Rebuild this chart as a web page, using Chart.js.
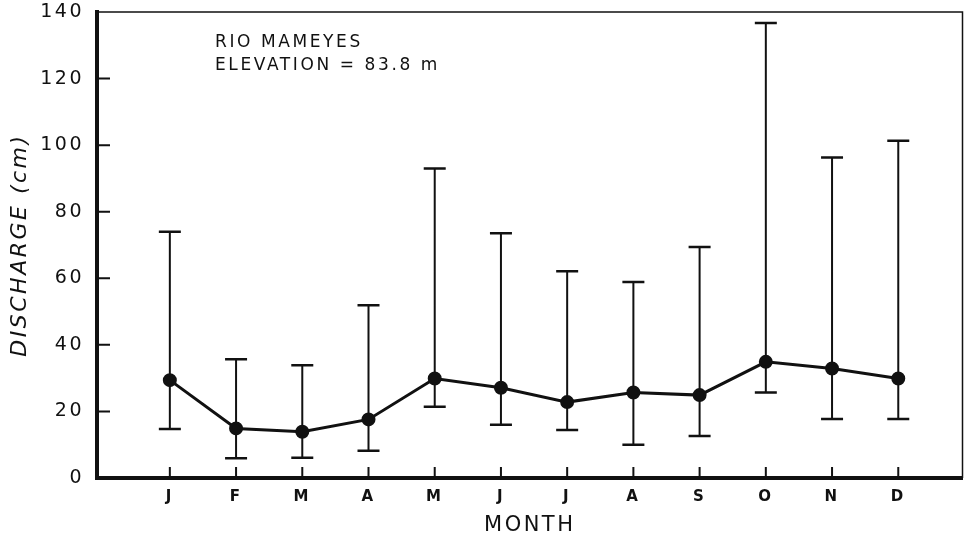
<!DOCTYPE html>
<html>
<head>
<meta charset="utf-8">
<script src="https://cdn.jsdelivr.net/npm/chart.js@4.4.1/dist/chart.umd.min.js"></script>
<style>
  html, body { margin: 0; padding: 0; background: #fff; }
  #wrap { width: 971px; height: 541px; }
</style>
</head>
<body>
<div id="wrap"><canvas id="c" width="971" height="541"></canvas></div>
<script>
// ---- data ----
const months = ['J','F','M','A','M','J','J','A','S','O','N','D'];
const meanDischarge = [29.4, 14.9, 13.9, 17.6, 29.9, 27.1, 22.8, 25.7, 24.9, 34.9, 32.9, 29.9];
const minDischarge  = [14.7, 5.9, 6.1, 8.2, 21.4, 16.0, 14.4, 10.0, 12.6, 25.7, 17.7, 17.7];
const maxDischarge  = [74.0, 35.7, 33.9, 51.9, 93.0, 73.5, 62.1, 58.9, 69.4, 136.7, 96.3, 101.3];
const yTickValues   = [0, 20, 40, 60, 80, 100, 120, 140];
const annotationLines = ['RIO MAMEYES', 'ELEVATION = 83.8 m'];
const yTitle = 'DISCHARGE (cm)';
const xTitle = 'MONTH';

const INK = '#111';
const FONT = "'DejaVu Sans', 'Liberation Sans', sans-serif";

const decor = {
  id: 'decor',
  beforeDraw(chart) {
    chart.ctx.letterSpacing = '2.5px';
  },
  beforeDatasetsDraw(chart) {
    const { ctx, chartArea: a, scales: { x, y } } = chart;
    ctx.save();
    ctx.strokeStyle = INK;
    ctx.lineCap = 'butt';
    // thin frame top and right
    ctx.lineWidth = 1.5;
    ctx.beginPath();
    ctx.moveTo(a.left, a.top);
    ctx.lineTo(a.right, a.top);
    ctx.lineTo(a.right, a.bottom);
    ctx.stroke();
    // inward tick marks
    ctx.lineWidth = 2;
    ctx.beginPath();
    yTickValues.forEach(v => {
      if (v > 0 && v < 140) {
        const py = y.getPixelForValue(v);
        ctx.moveTo(a.left, py);
        ctx.lineTo(a.left + 13, py);
      }
    });
    months.forEach((m, i) => {
      const px = x.getPixelForValue(i);
      ctx.moveTo(px, a.bottom);
      ctx.lineTo(px, a.bottom - 11);
    });
    ctx.stroke();
    // error bars (min / max)
    ctx.lineWidth = 2;
    ctx.beginPath();
    months.forEach((m, i) => {
      const px = x.getPixelForValue(i);
      const lo = y.getPixelForValue(minDischarge[i]);
      const hi = y.getPixelForValue(maxDischarge[i]);
      ctx.moveTo(px, lo); ctx.lineTo(px, hi);
    });
    ctx.stroke();
    ctx.lineWidth = 2.5;
    ctx.beginPath();
    months.forEach((m, i) => {
      const px = x.getPixelForValue(i);
      const lo = y.getPixelForValue(minDischarge[i]);
      const hi = y.getPixelForValue(maxDischarge[i]);
      ctx.moveTo(px - 11, lo); ctx.lineTo(px + 11, lo);
      ctx.moveTo(px - 11, hi); ctx.lineTo(px + 11, hi);
    });
    ctx.stroke();
    ctx.restore();
  },
  afterDraw(chart) {
    const { ctx, chartArea: a } = chart;
    ctx.save();
    ctx.letterSpacing = '2.6px';
    ctx.fillStyle = INK;
    ctx.font = "17px " + FONT;
    ctx.textAlign = 'left';
    ctx.textBaseline = 'alphabetic';
    ctx.fillText(annotationLines[0], a.left + 118, a.top + 35);
    ctx.fillText(annotationLines[1], a.left + 118, a.top + 58);
    ctx.restore();
  }
};

new Chart(document.getElementById('c'), {
  type: 'line',
  data: {
    datasets: [{
      label: 'Mean discharge',
      data: months.map((m, i) => ({ x: i, y: meanDischarge[i] })),
      borderColor: INK,
      backgroundColor: INK,
      borderWidth: 3,
      pointRadius: 5.5,
      pointBackgroundColor: INK,
      pointBorderColor: INK,
      tension: 0
    }]
  },
  options: {
    responsive: false,
    devicePixelRatio: 1,
    animation: false,
    layout: { padding: { top: 12, right: 1, left: 0, bottom: 0 } },
    plugins: { legend: { display: false }, tooltip: { enabled: false } },
    scales: {
      x: {
        type: 'linear',
        min: -1.1,
        max: 11.97,
        afterBuildTicks(scale) { scale.ticks = months.map((m, i) => ({ value: i })); },
        afterFit(scale) { scale.height = 63; scale.paddingLeft = 0; scale.paddingRight = 0; },
        grid: { display: false, drawTicks: false },
        border: { display: true, width: 4, color: INK },
        ticks: {
          autoSkip: false,
          maxRotation: 0,
          padding: 10,
          color: INK,
          font: { family: FONT, size: 15, weight: 'bold' },
          callback: (v) => months[v] ?? ''
        },
        title: {
          display: true,
          text: xTitle,
          color: INK,
          font: { family: FONT, size: 21 },
          padding: { top: 0, bottom: 3 }
        }
      },
      y: {
        min: 0,
        max: 140,
        afterBuildTicks(scale) { scale.ticks = yTickValues.map(v => ({ value: v })); },
        afterFit(scale) { scale.width = 97; scale.paddingTop = 0; scale.paddingBottom = 0; },
        grid: { display: false, drawTicks: false },
        border: { display: true, width: 4, color: INK },
        ticks: {
          padding: 13,
          color: INK,
          font: { family: FONT, size: 19 }
        },
        title: {
          display: true,
          text: yTitle,
          color: INK,
          font: { family: FONT, size: 22, style: 'italic' },
          padding: { top: 7, bottom: 0 }
        }
      }
    }
  },
  plugins: [decor]
});
</script>
</body>
</html>
